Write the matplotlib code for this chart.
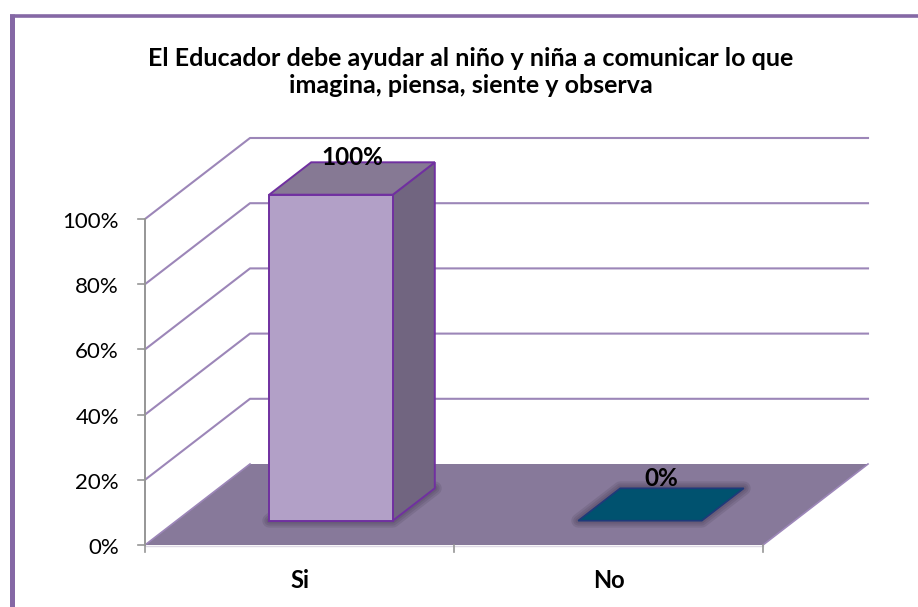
import matplotlib
matplotlib.use('Agg')
import matplotlib.pyplot as plt
from matplotlib.patches import Polygon

plt.rcParams['font.family'] = ['Lato', 'DejaVu Sans']

# ---------- Data ----------
categories = ['Si', 'No']
values = [100, 0]
value_labels = ['100%', '0%']
y_ticks = [0, 20, 40, 60, 80, 100]
title = 'El Educador debe ayudar al niño y niña a comunicar lo que\nimagina, piensa, siente y observa'

# ---------- Fake 3D geometry (pixels) ----------
X0, Y0 = 145, 545      # origin, front left of floor
CAT_W = 309            # width of one category
PX_PER_PCT = 3.26
DX, DY = 105, -81      # shift from front to back of floor
GAP = 0.3              # bar starts this far into the category and the depth

WALL = '#9C86B8'
AXIS = '#969696'
FLOOR = '#87799A'
BORDER = '#8568A5'
BAR_EDGE = '#7030A0'


def project(cat, pct, depth):
    # cat in category units, pct in percent, depth 0 front .. 1 back
    return (X0 + cat * CAT_W + depth * DX, Y0 - pct * PX_PER_PCT + depth * DY)


def shadow(ax, pts):
    for lw in [10, 7, 4]:
        ax.add_patch(Polygon(pts, closed=True, fc='none', ec='#2E2438', lw=lw, alpha=0.13,
                             joinstyle='round', zorder=3))


fig = plt.figure(figsize=(9.18, 6.07), dpi=100, facecolor='white')
ax = fig.add_axes([0, 0, 1, 1])
ax.set_xlim(0, 918)
ax.set_ylim(607, 0)
ax.axis('off')

# outer chart border
ax.plot([12, 12], [14, 607], color=BORDER, lw=3.6, solid_capstyle='butt')
ax.plot([10, 918], [15.5, 15.5], color=BORDER, lw=2.6, solid_capstyle='butt')

# floor
n = len(categories)
floor = [project(0, 0, 0), project(n, 0, 0), project(n, 0, 1), project(0, 0, 1)]
ax.add_patch(Polygon(floor, closed=True, fc=FLOOR, ec='none', zorder=2))
ax.plot([floor[0][0], floor[3][0]], [floor[0][1], floor[3][1]], color=WALL, lw=1.2, zorder=2)
ax.plot([floor[1][0], floor[2][0]], [floor[1][1], floor[2][1]], color=WALL, lw=1.2, zorder=2)

# wall gridlines
for t in y_ticks[1:]:
    a = project(0, t, 0)
    b = project(0, t, 1)
    c = project(n, t, 1)
    ax.plot([a[0], b[0], c[0]], [a[1], b[1], c[1]], color=WALL, lw=1.5, zorder=1)

# axes
ax.plot([X0, X0], [project(0, 0, 0)[1], project(0, 100, 0)[1]], color=AXIS, lw=1.4, zorder=4)
for t in y_ticks:
    x, y = project(0, t, 0)
    ax.plot([x - 7, x], [y, y], color=AXIS, lw=1.2, zorder=4)
    ax.text(x - 26, y + 3, f'{t}%', ha='right', va='center', fontsize=16, color='black')
for i in range(n + 1):
    x, y = project(i, 0, 0)
    ax.plot([x, x], [y, y + 7], color=AXIS, lw=1.2, zorder=4)
ax.plot([X0, project(n, 0, 0)[0]], [Y0 + 1, Y0 + 1], color='#DDD8E4', lw=1, zorder=2)

# bars
for i, (cat, val, lab) in enumerate(zip(categories, values, value_labels)):
    l, r = i + GAP, i + 1 - GAP
    d0, d1 = GAP, 1 - GAP
    footprint = [project(l, 0, d0), project(r, 0, d0), project(r, 0, d1), project(l, 0, d1)]
    shadow(ax, footprint)
    if val > 0:
        front = [project(l, 0, d0), project(r, 0, d0), project(r, val, d0), project(l, val, d0)]
        side = [project(r, 0, d0), project(r, 0, d1), project(r, val, d1), project(r, val, d0)]
        top = [project(l, val, d0), project(r, val, d0), project(r, val, d1), project(l, val, d1)]
        ax.add_patch(Polygon(side, closed=True, fc='#716580', ec=BAR_EDGE, lw=1.4, zorder=5))
        ax.add_patch(Polygon(top, closed=True, fc='#867994', ec=BAR_EDGE, lw=1.4, zorder=5))
        ax.add_patch(Polygon(front, closed=True, fc='#B2A0C7', ec=BAR_EDGE, lw=1.4, zorder=6))
    else:
        ax.add_patch(Polygon(footprint, closed=True, fc='#00526F', ec='#1F3A7A', lw=1.2, zorder=5))

    # value label sits just above the back edge of the bar
    lx, _ = project(i + 0.5, val, 0.5)
    _, ly = project(i + 0.5, val, d1)
    ax.text(lx, ly - (5 if val else 10), lab, ha='center', va='center', fontsize=17.5,
            fontweight='bold', color='black', zorder=7)

    # category label
    cx, cy = project(i + 0.5, 0, 0)
    ax.text(cx, cy + 36, cat, ha='center', va='center', fontsize=17, fontweight='bold', color='black')

ax.text(471, 72, title, ha='center', va='center', fontsize=18, fontweight='bold',
        color='black', linespacing=1.16)

fig.savefig('out.png', dpi=100, facecolor='white')
